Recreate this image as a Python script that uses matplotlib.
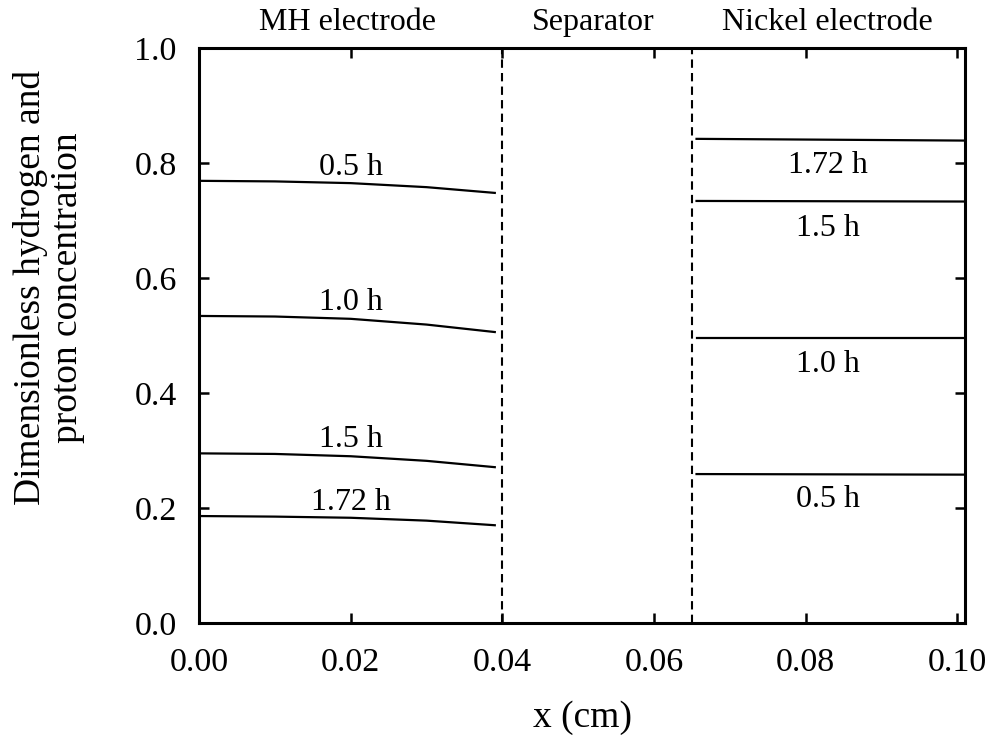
import matplotlib
matplotlib.use("Agg")
import matplotlib.pyplot as plt
import matplotlib.transforms as mtransforms

plt.rcParams['font.family'] = ['Liberation Serif', 'DejaVu Serif']
plt.rcParams['mathtext.fontset'] = 'stix'

# MH electrode profiles
x_mh = [0.0, 0.01, 0.02, 0.03, 0.039]
mh_05 = [0.769, 0.768, 0.765, 0.758, 0.748]
mh_10 = [0.534, 0.533, 0.529, 0.519, 0.506]
mh_15 = [0.295, 0.294, 0.290, 0.282, 0.271]
mh_172 = [0.186, 0.185, 0.183, 0.178, 0.170]

# Nickel electrode profiles
x_ni = [0.0656, 0.101]
ni_05 = [0.259, 0.258]
ni_10 = [0.496, 0.496]
ni_15 = [0.734, 0.733]
ni_172 = [0.842, 0.839]

boundaries = [0.04, 0.065]
region_names = ["MH electrode", "Separator", "Nickel electrode"]
region_x = [0.0196, 0.052, 0.0829]

mh_labels = ["0.5 h", "1.0 h", "1.5 h", "1.72 h"]
mh_label_y = [0.792, 0.558, 0.319, 0.210]
ni_labels = ["1.72 h", "1.5 h", "1.0 h", "0.5 h"]
ni_label_y = [0.795, 0.686, 0.450, 0.215]

xticks = [0.0, 0.02, 0.04, 0.06, 0.08, 0.10]
xtick_labels = ["0.00", "0.02", "0.04", "0.06", "0.08", "0.10"]
yticks = [0.0, 0.2, 0.4, 0.6, 0.8, 1.0]
ytick_labels = ["0.0", "0.2", "0.4", "0.6", "0.8", "1.0"]

fig = plt.figure(figsize=(9.92, 7.42), dpi=100)
ax = fig.add_axes([0.2006, 0.1604, 0.9728 - 0.2006, 0.9353 - 0.1604])

for ys in [mh_05, mh_10, mh_15, mh_172]:
    ax.plot(x_mh, ys, color='black', lw=1.6)
for ys in [ni_05, ni_10, ni_15, ni_172]:
    ax.plot(x_ni, ys, color='black', lw=1.6)

for b in boundaries:
    ax.axvline(b, color='black', lw=1.5, ls=(0, (4, 2.5)))

fs = 23
for lab, yy in zip(mh_labels, mh_label_y):
    ax.text(0.02, yy, lab, ha='center', va='center', fontsize=fs)
for lab, yy in zip(ni_labels, ni_label_y):
    ax.text(0.0829, yy, lab, ha='center', va='center', fontsize=fs)

trans = mtransforms.blended_transform_factory(ax.transData, ax.transAxes)
for name, xx in zip(region_names, region_x):
    ax.text(xx, 1.045, name, ha='center', va='center', fontsize=fs, transform=trans)

ax.set_xlim(0, 0.101)
ax.set_ylim(0, 1.0)
ax.set_xticks(xticks)
ax.set_xticklabels(xtick_labels)
ax.set_yticks(yticks)
ax.set_yticklabels(ytick_labels)
ax.tick_params(direction='in', length=7, width=1.8, top=True, right=True,
               labelsize=24.5)
ax.tick_params(axis='x', pad=18)
ax.tick_params(axis='y', pad=16)
for s in ax.spines.values():
    s.set_linewidth(2.2)

ax.set_xlabel("x (cm)", fontsize=27)
ax.xaxis.set_label_coords(0.5, -0.165)
ax.xaxis.label.set_va('center')
ax.set_ylabel("Dimensionless hydrogen and\nproton concentration", fontsize=27,
              linespacing=1.12)
ax.yaxis.set_label_coords(-0.196, 0.583)
ax.yaxis.label.set_va('center')
ax.yaxis.label.set_ha('center')

fig.savefig("out.png", dpi=100)
